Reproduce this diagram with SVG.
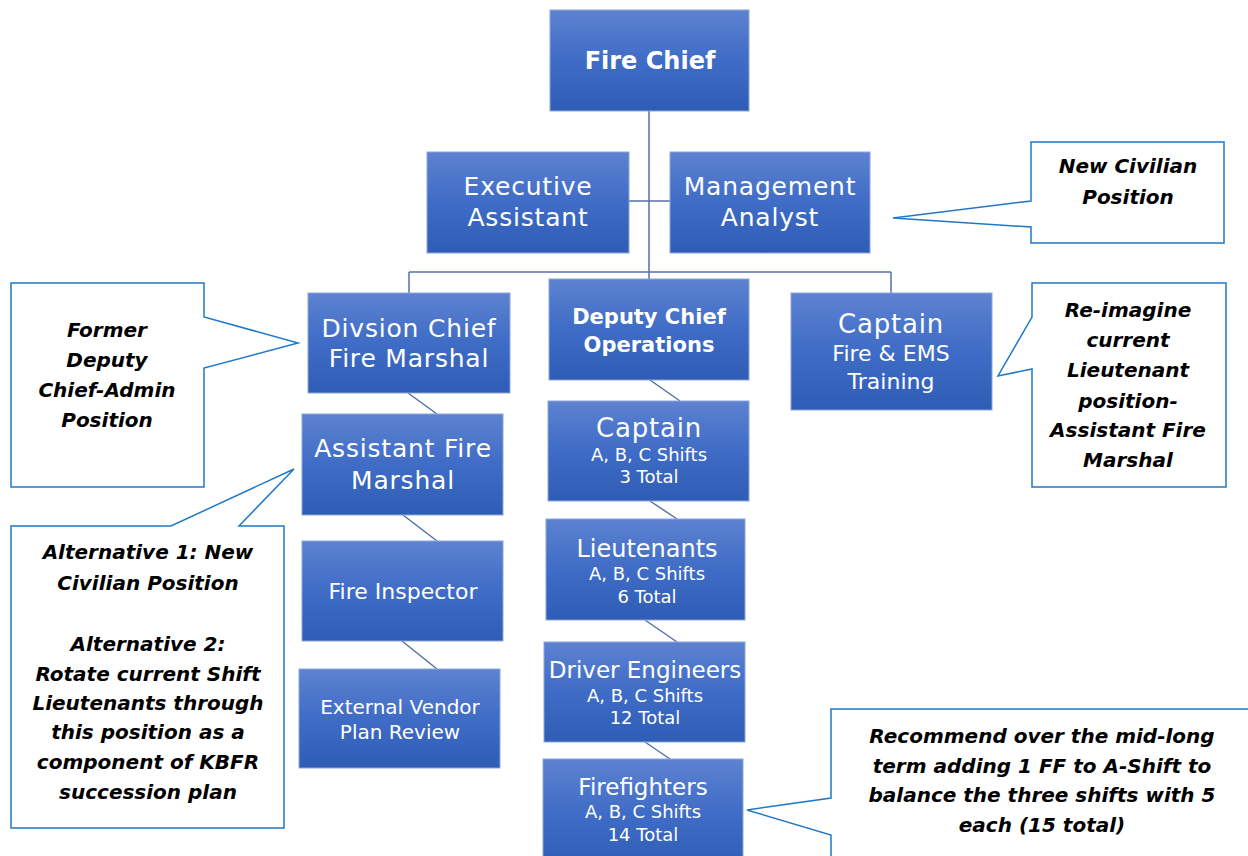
<svg xmlns="http://www.w3.org/2000/svg" width="1248" height="856" viewBox="0 0 1248 856">
<defs>
<linearGradient id="g" x1="0" y1="0" x2="0" y2="1">
<stop offset="0" stop-color="#5d82d0"/>
<stop offset="0.5" stop-color="#3f6cc6"/>
<stop offset="1" stop-color="#2f5db5"/>
</linearGradient>
<style>
.box{fill:url(#g);stroke:#8aa6dc;stroke-width:1}
.t{font-family:"DejaVu Sans","Liberation Sans",sans-serif;fill:#fff;text-anchor:middle}
.big{font-size:25px;letter-spacing:0.8px}
.sm{font-size:18px}
.b{font-weight:bold}
.conn{stroke:#5570a8;stroke-width:1.5;fill:none}
.co{fill:#fff;stroke:#1f78c8;stroke-width:1.5}
.ct{font-family:"DejaVu Sans","Liberation Sans",sans-serif;font-weight:bold;font-style:italic;font-size:20px;fill:#000;text-anchor:middle}
</style>
</defs>
<rect width="1248" height="856" fill="#fff"/>
<g id="connectors">
<path class="conn" d="M649 111 V279 M629 201 H670 M409 272 H891 M409 272 V293 M891 272 V293"/>
<path class="conn" d="M408 393 L437 414 M403 515 L437 541 M402 641 L437 669"/>
<path class="conn" d="M650 380 L680 401 M650 501 L677 519 M645 620 L677 642 M645 742 L670 759"/>
</g>
<g id="fire-chief"><rect class="box" x="550" y="10" width="199" height="101"/><text class="t b" x="650" y="69" font-size="24">Fire Chief</text></g>
<g id="exec-assistant"><rect class="box" x="427" y="152" width="202" height="101"/><text class="t big" x="528" y="195">Executive</text><text class="t big" x="528" y="226">Assistant</text></g>
<g id="mgmt-analyst"><rect class="box" x="670" y="152" width="200" height="101"/><text class="t big" x="770" y="195">Management</text><text class="t big" x="770" y="226">Analyst</text></g>
<g id="division-chief"><rect class="box" x="308" y="293" width="202" height="100"/><text class="t big" x="409" y="337">Divsion Chief</text><text class="t big" x="409" y="367">Fire Marshal</text></g>
<g id="deputy-chief"><rect class="box" x="549" y="279" width="200" height="101"/><text class="t b" x="649" y="324" font-size="21">Deputy Chief</text><text class="t b" x="649" y="352" font-size="21">Operations</text></g>
<g id="captain-training"><rect class="box" x="791" y="293" width="201" height="117"/><text class="t" x="891" y="333" font-size="26" letter-spacing="0.8">Captain</text><text class="t" x="891" y="361" font-size="22">Fire &amp; EMS</text><text class="t" x="891" y="389" font-size="22">Training</text></g>
<g id="asst-fire-marshal"><rect class="box" x="302" y="414" width="201" height="101"/><text class="t big" x="403" y="457">Assistant Fire</text><text class="t big" x="403" y="489">Marshal</text></g>
<g id="fire-inspector"><rect class="box" x="302" y="541" width="201" height="100"/><text class="t" x="403" y="599" font-size="22">Fire Inspector</text></g>
<g id="external-vendor"><rect class="box" x="299" y="669" width="201" height="99"/><text class="t" x="400" y="714" font-size="20">External Vendor</text><text class="t" x="400" y="739" font-size="20">Plan Review</text></g>
<g id="captain-shifts"><rect class="box" x="548" y="401" width="201" height="100"/><text class="t" x="649" y="437" font-size="26" letter-spacing="0.8">Captain</text><text class="t sm" x="649" y="461">A, B, C Shifts</text><text class="t sm" x="649" y="483">3 Total</text></g>
<g id="lieutenants"><rect class="box" x="546" y="519" width="199" height="101"/><text class="t" x="647" y="557" font-size="24">Lieutenants</text><text class="t sm" x="647" y="580">A, B, C Shifts</text><text class="t sm" x="647" y="603">6 Total</text></g>
<g id="driver-engineers"><rect class="box" x="544" y="642" width="201" height="100"/><text class="t" x="645" y="678" font-size="23">Driver Engineers</text><text class="t sm" x="645" y="702">A, B, C Shifts</text><text class="t sm" x="645" y="724">12 Total</text></g>
<g id="firefighters"><rect class="box" x="543" y="759" width="200" height="110"/><text class="t" x="643" y="795" font-size="23">Firefighters</text><text class="t sm" x="643" y="818">A, B, C Shifts</text><text class="t sm" x="643" y="841">14 Total</text></g>
<g id="callout-new-civilian"><path class="co" d="M1031 142 H1224 V243 H1031 V227 L893 218 L1031 201 Z"/><text class="ct" x="1128" y="173">New Civilian</text><text class="ct" x="1128" y="204">Position</text></g>
<g id="callout-former-deputy"><path class="co" d="M11 283 H204 V317 L298 343 L204 368 V487 H11 Z"/><text class="ct" x="107" y="337">Former</text><text class="ct" x="107" y="367">Deputy</text><text class="ct" x="107" y="397">Chief-Admin</text><text class="ct" x="107" y="427">Position</text></g>
<g id="callout-reimagine"><path class="co" d="M1032 283 H1226 V487 H1032 V369 L998 376 L1032 317 Z"/><text class="ct" x="1128" y="317">Re-imagine</text><text class="ct" x="1128" y="347">current</text><text class="ct" x="1128" y="377">Lieutenant</text><text class="ct" x="1128" y="408">position-</text><text class="ct" x="1128" y="437">Assistant Fire</text><text class="ct" x="1128" y="467">Marshal</text></g>
<g id="callout-alternatives"><path class="co" d="M11 526 H171 L294 469 L239 526 H284 V828 H11 Z"/><text class="ct" x="148" y="559">Alternative 1: New</text><text class="ct" x="148" y="590">Civilian Position</text><text class="ct" x="148" y="651">Alternative 2:</text><text class="ct" x="148" y="681">Rotate current Shift</text><text class="ct" x="148" y="710">Lieutenants through</text><text class="ct" x="148" y="739">this position as a</text><text class="ct" x="148" y="769">component of KBFR</text><text class="ct" x="148" y="799">succession plan</text></g>
<g id="callout-recommend"><path class="co" d="M831 860 V835 L747 810 L831 798 V709 H1260 V860"/><text class="ct" x="1042" y="743">Recommend over the mid-long</text><text class="ct" x="1042" y="773">term adding 1 FF to A-Shift to</text><text class="ct" x="1042" y="802">balance the three shifts with 5</text><text class="ct" x="1042" y="832">each (15 total)</text></g>
</svg>
